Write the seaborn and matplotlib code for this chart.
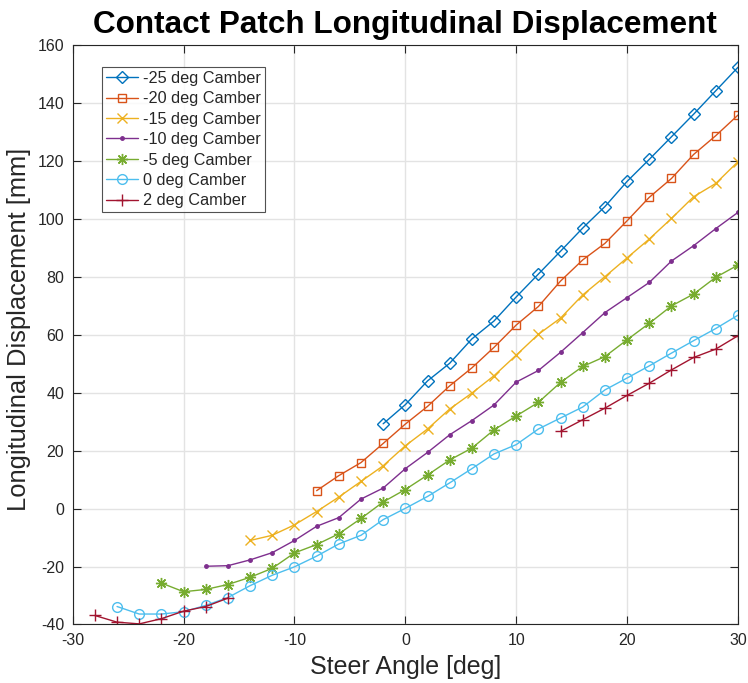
import numpy as np
import pandas as pd
import matplotlib
matplotlib.use("Agg")
import matplotlib.pyplot as plt
import seaborn as sns

# Steer angle sweeps (deg) and longitudinal displacement (mm) per camber setting
steer_m25 = [-2, 0, 2, 4, 6, 8, 10, 12, 14, 16, 18, 20, 22, 24, 26, 28, 30]
disp_m25 = [29.3, 35.9, 44.1, 50.2, 58.6, 64.8, 73.1, 81.0, 88.9, 96.9, 104.3, 113.0, 120.6, 128.4, 136.2, 144.3, 152.4]

steer_m20 = [-8, -6, -4, -2, 0, 2, 4, 6, 8, 10, 12, 14, 16, 18, 20, 22, 24, 26, 28, 30]
disp_m20 = [6.2, 11.4, 15.9, 22.5, 29.2, 35.3, 42.4, 48.6, 55.7, 63.4, 69.8, 78.6, 85.9, 91.6, 99.4, 107.5, 114.0, 122.3, 128.8, 135.9]

steer_m15 = [-14, -12, -10, -8, -6, -4, -2, 0, 2, 4, 6, 8, 10, 12, 14, 16, 18, 20, 22, 24, 26, 28, 30]
disp_m15 = [-11.0, -9.2, -5.6, -1.0, 4.0, 9.4, 14.8, 21.7, 27.5, 34.4, 39.9, 45.9, 53.0, 60.2, 65.8, 73.8, 80.1, 86.6, 93.1, 100.2, 107.7, 112.3, 119.8]

steer_m10 = [-18, -16, -14, -12, -10, -8, -6, -4, -2, 0, 2, 4, 6, 8, 10, 12, 14, 16, 18, 20, 22, 24, 26, 28, 30]
disp_m10 = [-19.9, -19.7, -17.7, -15.2, -11.0, -6.1, -3.1, 3.3, 7.1, 13.8, 19.4, 25.5, 30.4, 35.8, 43.7, 47.7, 54.0, 60.8, 67.7, 72.9, 78.1, 85.5, 90.8, 96.7, 102.3]

steer_m5 = [-22, -20, -18, -16, -14, -12, -10, -8, -6, -4, -2, 0, 2, 4, 6, 8, 10, 12, 14, 16, 18, 20, 22, 24, 26, 28, 30]
disp_m5 = [-25.7, -28.7, -27.9, -26.2, -23.7, -20.6, -15.3, -12.4, -8.7, -3.4, 2.3, 6.6, 11.6, 16.8, 20.9, 27.2, 32.0, 36.7, 43.6, 49.1, 52.5, 58.3, 64.0, 70.0, 74.1, 79.9, 84.1]

steer_0 = [-26, -24, -22, -20, -18, -16, -14, -12, -10, -8, -6, -4, -2, 0, 2, 4, 6, 8, 10, 12, 14, 16, 18, 20, 22, 24, 26, 28, 30]
disp_0 = [-33.8, -36.4, -36.4, -35.6, -33.4, -30.7, -26.6, -23.0, -20.1, -16.4, -12.2, -9.2, -3.8, 0.1, 4.2, 8.9, 13.8, 18.9, 22.1, 27.5, 31.3, 35.1, 41.0, 45.1, 49.3, 53.7, 58.0, 62.2, 66.8]

# +2 deg camber has no data between -16 and 14 deg steer
steer_p2 = [-28, -26, -24, -22, -20, -18, -16, 14, 16, 18, 20, 22, 24, 26, 28, 30]
disp_p2 = [-36.9, -39.2, -39.8, -38.0, -35.4, -33.8, -30.9, 26.7, 30.7, 34.7, 39.1, 43.3, 47.9, 52.2, 55.1, 59.7]

labels = ["-25 deg Camber", "-20 deg Camber", "-15 deg Camber", "-10 deg Camber",
          "-5 deg Camber", "0 deg Camber", "2 deg Camber"]
steers = [steer_m25, steer_m20, steer_m15, steer_m10, steer_m5, steer_0, steer_p2]
disps = [disp_m25, disp_m20, disp_m15, disp_m10, disp_m5, disp_0, disp_p2]

colors = ["#0072BD", "#D95319", "#EDB120", "#7E2F8E", "#77AC30", "#4DBEEE", "#A2142F"]
markers = ["D", "s", "x", ".", (8, 2, 0), "o", "+"]
msizes = [6, 6, 7, 5, 8, 7, 8]
hollow = [True, True, False, False, False, True, False]

sns.set_theme(style="white")
plt.rcParams["font.family"] = ["Liberation Sans", "DejaVu Sans"]
plt.rcParams["axes.unicode_minus"] = False

fig = plt.figure(figsize=(7.48, 6.83), dpi=100)
ax = fig.add_axes([0.0972, 0.0857, 0.8894, 0.848])

for lab, sx, dy, c, m, ms, h in zip(labels, steers, disps, colors, markers, msizes, hollow):
    df = pd.DataFrame({"steer": sx, "disp": dy})
    # split into contiguous runs so gaps in the sweep stay open
    df["run"] = (df["steer"].diff().fillna(2) > 2.5).cumsum()
    for k, (_, seg) in enumerate(df.groupby("run")):
        sns.lineplot(data=seg, x="steer", y="disp", ax=ax, color=c, marker=m,
                     markersize=ms, markeredgecolor=c,
                     markerfacecolor="none" if h else c,
                     markeredgewidth=1.0, linewidth=1.0,
                     label=lab if k == 0 else None, legend=False)

ax.set_xlim(-30, 30)
ax.set_ylim(-40, 160)
ax.set_xticks(np.arange(-30, 31, 10))
ax.set_yticks(np.arange(-40, 161, 20))
ax.grid(True, color="#e3e3e3", linewidth=1.0)
ax.set_axisbelow(True)
for s in ax.spines.values():
    s.set_color("#262626")
    s.set_linewidth(0.8)
ax.tick_params(direction="in", length=6, width=0.8, colors="#262626",
               labelsize=11.5, top=True, right=True, bottom=True, left=True,
               pad=6, labelcolor="#262626")

ax.set_xlabel("Steer Angle [deg]", fontsize=18, color="#262626")
ax.xaxis.set_label_coords(0.501, -0.053)
ax.set_ylabel("Longitudinal Displacement [mm]", fontsize=18.4, color="#262626")
ax.yaxis.set_label_coords(-0.062, 0.51)
ax.set_title("Contact Patch Longitudinal Displacement", fontsize=22.7,
             fontweight="bold", color="black", pad=9)

leg = ax.legend(loc="upper left", bbox_to_anchor=(0.0436, 0.9625), fontsize=11.7,
                frameon=True, fancybox=False, edgecolor="#262626",
                handlelength=1.97, handletextpad=0.3, borderpad=0.25,
                labelspacing=0.33, borderaxespad=0)
leg.get_frame().set_linewidth(0.8)

fig.savefig("out.png", dpi=100, facecolor="white")
